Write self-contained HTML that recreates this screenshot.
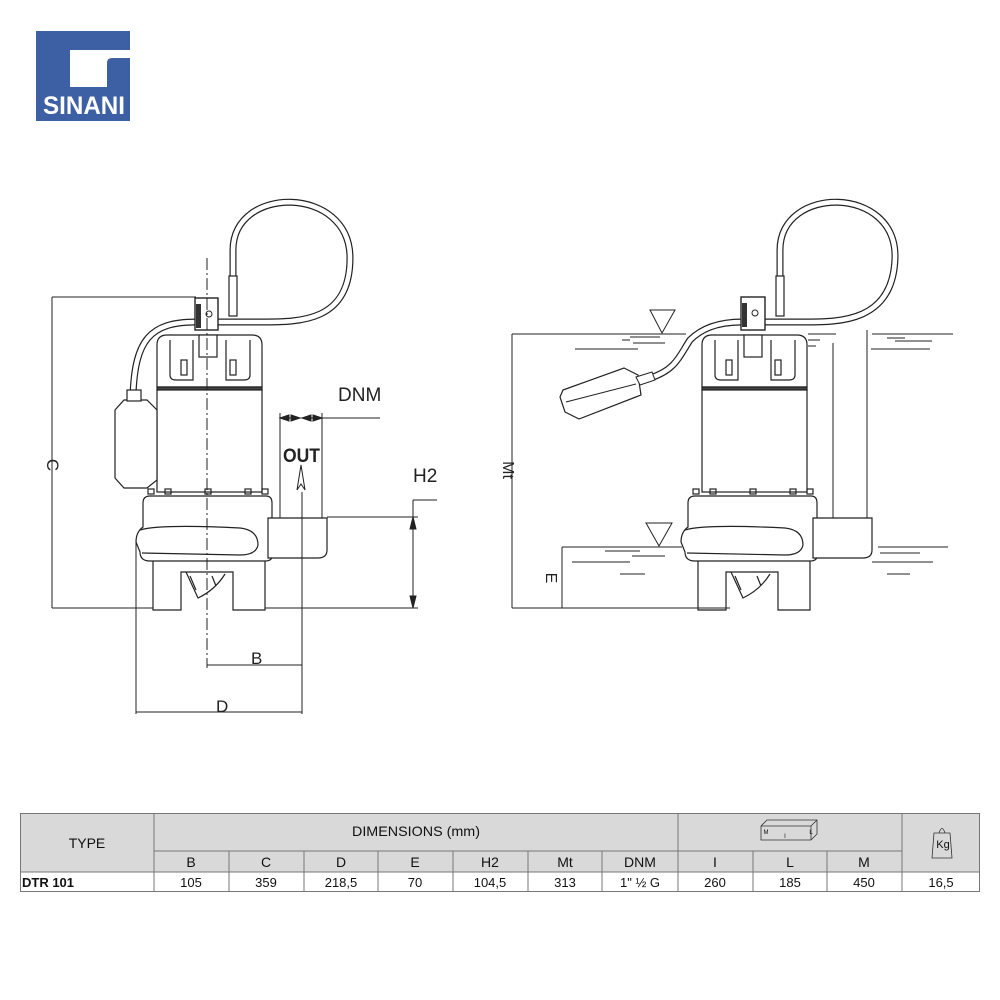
<!DOCTYPE html>
<html><head><meta charset="utf-8"><style>
html,body{margin:0;padding:0;background:#fff;}
body{width:1000px;height:1000px;position:relative;overflow:hidden;font-family:"Liberation Sans",sans-serif;}
</style></head><body>
<svg width="1000" height="1000" viewBox="0 0 1000 1000" xmlns="http://www.w3.org/2000/svg" style="position:absolute;left:0;top:0">
<defs>
<g id="pump" fill="none" stroke="#222" stroke-width="1.2">
  <path d="M157,387 L157,345 Q157,335 167,335 L252,335 Q262,335 262,345 L262,387 Z" fill="#fff"/>
  <rect x="157" y="387" width="105" height="3" fill="#444"/>
  <path d="M170,340 V375 Q170,380 176,380 H193 V340 M226,340 V380 H244 Q250,380 250,375 V340"/>
  <rect x="181" y="360" width="6" height="15"/><rect x="230" y="360" width="6" height="15"/>
  <rect x="199" y="335" width="18" height="22" fill="#fff"/>
  <rect x="157" y="390" width="105" height="102" fill="#fff"/>
  <rect x="148" y="489" width="6" height="5"/><rect x="165" y="489" width="6" height="5"/><rect x="205" y="489" width="6" height="5"/><rect x="245" y="489" width="6" height="5"/><rect x="262" y="489" width="6" height="5"/>
  <path d="M150,496 H266 Q272,496 272,503 V556 Q272,561 265,561 H150 Q140,561 140,552 L136,542 Q136,532 143,527 L143,503 Q143,496 150,496 Z" fill="#fff"/>
  <path d="M140,530 Q160,524 240,528 Q258,530 258,545 Q256,555 240,555 L142,553"/>
  <path d="M153,561 V610 H181 V572 H233 V610 H265 V561"/>
  <path d="M186,572 Q192,585 198,598 Q215,590 225,574 M190,576 L196,590 M212,576 L216,586"/>
  <path d="M268,518 H327 V550 Q327,558 318,558 H268 Z" fill="#fff"/>
</g>
</defs>

<!-- Logo -->
<rect x="36" y="31" width="94" height="90" fill="#3d5fa3"/>
<path d="M70,50 H130 V58 H112 Q107,58 107,63 V87 H70 Z" fill="#fff"/>
<text x="84" y="114" text-anchor="middle" font-size="25" font-weight="bold" fill="#fff" font-family="Liberation Sans, sans-serif" textLength="82" lengthAdjust="spacingAndGlyphs">SINANI</text>

<!-- LEFT PUMP -->
<g fill="none" stroke="#222" stroke-width="7"><path d="M233,278 V250 C233,185 350,185 350,258 C350,322 300,322 262,322 L218,322"/><path d="M196,322 C150,322 135,340 133,395"/></g>
<g fill="none" stroke="#fff" stroke-width="4.6"><path d="M233,278 V250 C233,185 350,185 350,258 C350,322 300,322 262,322 L218,322"/><path d="M196,322 C150,322 135,340 133,395"/></g>
<rect x="229" y="276" width="8" height="40" fill="#fff" stroke="#222" stroke-width="1.2"/>
<use href="#pump"/>
<rect x="195" y="298" width="23" height="32" fill="#fff" stroke="#222" stroke-width="1.4"/>
<rect x="196" y="304" width="5" height="24" fill="#333"/>
<circle cx="209" cy="314" r="3" fill="none" stroke="#222"/>
<polygon points="124,400 147,400 157,410 157,480 147,488 124,488 115,478 115,410" fill="#fff" stroke="#222" stroke-width="1.2"/>
<rect x="127" y="390" width="14" height="11" fill="#fff" stroke="#222" stroke-width="1.2"/>
<line x1="207" y1="258" x2="207" y2="668" stroke="#222" stroke-width="1" stroke-dasharray="12,3,2,3"/>
<g stroke="#222" stroke-width="1" fill="none">
  <line x1="280" y1="413" x2="280" y2="518"/><line x1="322" y1="413" x2="322" y2="518"/>
  <line x1="280" y1="418" x2="380" y2="418"/>
  <path d="M280,418 l9,-3 v6 z M300,418 l-9,-3 v6 z M302,418 l9,-3 v6 z M322,418 l-9,-3 v6 z" fill="#222"/>
  <path d="M297,490 L301,465 L305,490 L301,484 Z"/>
  <line x1="302" y1="492" x2="302" y2="714"/>
  <line x1="327" y1="517" x2="418" y2="517"/><line x1="413" y1="500" x2="437" y2="500"/>
  <line x1="413" y1="500" x2="413" y2="608"/>
  <path d="M413,517 l-3,12 h6 z M413,608 l-3,-12 h6 z" fill="#222"/>
  <line x1="265" y1="608" x2="418" y2="608"/>
  <line x1="52" y1="297" x2="196" y2="297"/><line x1="52" y1="297" x2="52" y2="608"/><line x1="52" y1="608" x2="153" y2="608"/>
  <line x1="207" y1="665" x2="302" y2="665"/>
  <line x1="136" y1="540" x2="136" y2="714"/><line x1="136" y1="712" x2="302" y2="712"/>
</g>
<g font-family="Liberation Sans, sans-serif" fill="#222">
  <text x="338" y="401" font-size="19">DNM</text>
  <text x="283" y="462" font-size="19" font-weight="bold" textLength="37" lengthAdjust="spacingAndGlyphs">OUT</text>
  <text x="413" y="482" font-size="19">H2</text>
  <text x="251" y="664" font-size="17">B</text>
  <text x="216" y="712" font-size="17">D</text>
  <text transform="translate(47,465) rotate(90)" font-size="17" text-anchor="middle">C</text>
</g>

<!-- RIGHT PUMP -->
<g fill="none" stroke="#222" stroke-width="1">
  <line x1="512" y1="334" x2="686" y2="334"/>
  <line x1="575" y1="349" x2="638" y2="349"/><line x1="622" y1="340" x2="630" y2="340"/><line x1="633" y1="343" x2="665" y2="343"/>
  <line x1="630" y1="337" x2="660" y2="337"/>
  <line x1="808" y1="334" x2="836" y2="334"/><line x1="808" y1="340" x2="820" y2="340"/><line x1="808" y1="346" x2="816" y2="346"/>
  <line x1="872" y1="334" x2="953" y2="334"/><line x1="887" y1="338" x2="905" y2="338"/><line x1="895" y1="341" x2="932" y2="341"/><line x1="871" y1="349" x2="930" y2="349"/>
  <polygon points="650,310 675,310 662,333"/>
  <line x1="562" y1="547" x2="682" y2="547"/>
  <line x1="605" y1="551" x2="640" y2="551"/><line x1="632" y1="556" x2="665" y2="556"/>
  <line x1="572" y1="562" x2="630" y2="562"/><line x1="620" y1="574" x2="645" y2="574"/>
  <polygon points="646,523 672,523 659,546"/>
  <line x1="878" y1="547" x2="948" y2="547"/><line x1="880" y1="553" x2="920" y2="553"/><line x1="872" y1="562" x2="933" y2="562"/><line x1="887" y1="574" x2="910" y2="574"/>
  <line x1="512" y1="334" x2="512" y2="608"/><line x1="512" y1="608" x2="730" y2="608"/>
  <line x1="562" y1="547" x2="562" y2="608"/>
  <line x1="833" y1="343" x2="833" y2="518"/><line x1="867" y1="330" x2="867" y2="518"/>
</g>
<g fill="none" stroke="#222" stroke-width="7"><path d="M780,278 V250 C780,185 897,185 895,258 C893,322 840,322 805,322 L765,322"/><path d="M742,322 C715,322 700,330 690,340 C680,355 676,370 650,378"/></g>
<g fill="none" stroke="#fff" stroke-width="4.6"><path d="M780,278 V250 C780,185 897,185 895,258 C893,322 840,322 805,322 L765,322"/><path d="M742,322 C715,322 700,330 690,340 C680,355 676,370 650,378"/></g>
<rect x="776" y="276" width="8" height="40" fill="#fff" stroke="#222" stroke-width="1.2"/>
<use href="#pump" x="545"/>
<rect x="741" y="297" width="24" height="33" fill="#fff" stroke="#222" stroke-width="1.4"/>
<rect x="742" y="303" width="5" height="24" fill="#333"/>
<circle cx="755" cy="313" r="3" fill="none" stroke="#222"/>
<polygon points="563,390 624,368 638,375 641,395 579,419 565,412 560,397" fill="#fff" stroke="#222" stroke-width="1.2"/>
<line x1="566" y1="402" x2="636" y2="384" stroke="#222"/>
<polygon points="636,377 652,372 655,380 640,385" fill="#fff" stroke="#222"/>
<g font-family="Liberation Sans, sans-serif" fill="#222">
  <text transform="translate(503,470) rotate(90)" font-size="16" text-anchor="middle">Mt</text>
  <text transform="translate(546,578) rotate(90)" font-size="16" text-anchor="middle">E</text>
</g>

<!-- TABLE -->
<g stroke="none">
  <rect x="20" y="813" width="960" height="59" fill="#d9d9d9"/>
  <rect x="20" y="872" width="960" height="20" fill="#fff"/>
</g>
<g stroke="#777" stroke-width="1" fill="none">
  <rect x="20.5" y="813.5" width="959" height="78"/>
  <line x1="20" y1="872" x2="980" y2="872"/>
  <line x1="154" y1="851" x2="902" y2="851"/>
  <line x1="154" y1="813" x2="154" y2="892"/><line x1="678" y1="813" x2="678" y2="892"/><line x1="902" y1="813" x2="902" y2="892"/>
  <line x1="229" y1="851" x2="229" y2="892"/><line x1="304" y1="851" x2="304" y2="892"/><line x1="378" y1="851" x2="378" y2="892"/><line x1="453" y1="851" x2="453" y2="892"/><line x1="528" y1="851" x2="528" y2="892"/><line x1="602" y1="851" x2="602" y2="892"/><line x1="753" y1="851" x2="753" y2="892"/><line x1="827" y1="851" x2="827" y2="892"/>
</g>
<g stroke="#333" stroke-width="0.8" fill="none">
  <path d="M761,826 l6,-6 h50 v14 l-6,6 h-50 z M761,826 h50 v14 M811,826 l6,-6"/>
  <path d="M934,833 h16 l2,25 h-20 z M939,833 q3,-9 6,0"/>
</g>
<g font-family="Liberation Sans, sans-serif" fill="#111" font-size="14" text-anchor="middle">
  <text x="87" y="848">TYPE</text>
  <text x="416" y="836" textLength="128" lengthAdjust="spacingAndGlyphs">DIMENSIONS (mm)</text>
  <text x="191" y="867">B</text><text x="266" y="867">C</text><text x="341" y="867">D</text><text x="415" y="867">E</text><text x="490" y="867">H2</text><text x="565" y="867">Mt</text><text x="640" y="867">DNM</text><text x="715" y="867">I</text><text x="790" y="867">L</text><text x="864" y="867">M</text>
  <text x="943" y="848" font-size="11">Kg</text>
  <g font-size="13"><text x="191" y="887">105</text><text x="266" y="887">359</text><text x="341" y="887">218,5</text><text x="415" y="887">70</text><text x="490" y="887">104,5</text><text x="565" y="887">313</text><text x="640" y="887">1" ½ G</text><text x="715" y="887">260</text><text x="790" y="887">185</text><text x="864" y="887">450</text><text x="941" y="887">16,5</text></g>
  <text x="22" y="887" text-anchor="start" font-size="13" font-weight="bold">DTR 101</text>
  <text x="766" y="834" font-size="6">M</text><text x="785" y="838" font-size="6">I</text><text x="811" y="834" font-size="6">L</text>
</g>
</svg>
</body></html>
